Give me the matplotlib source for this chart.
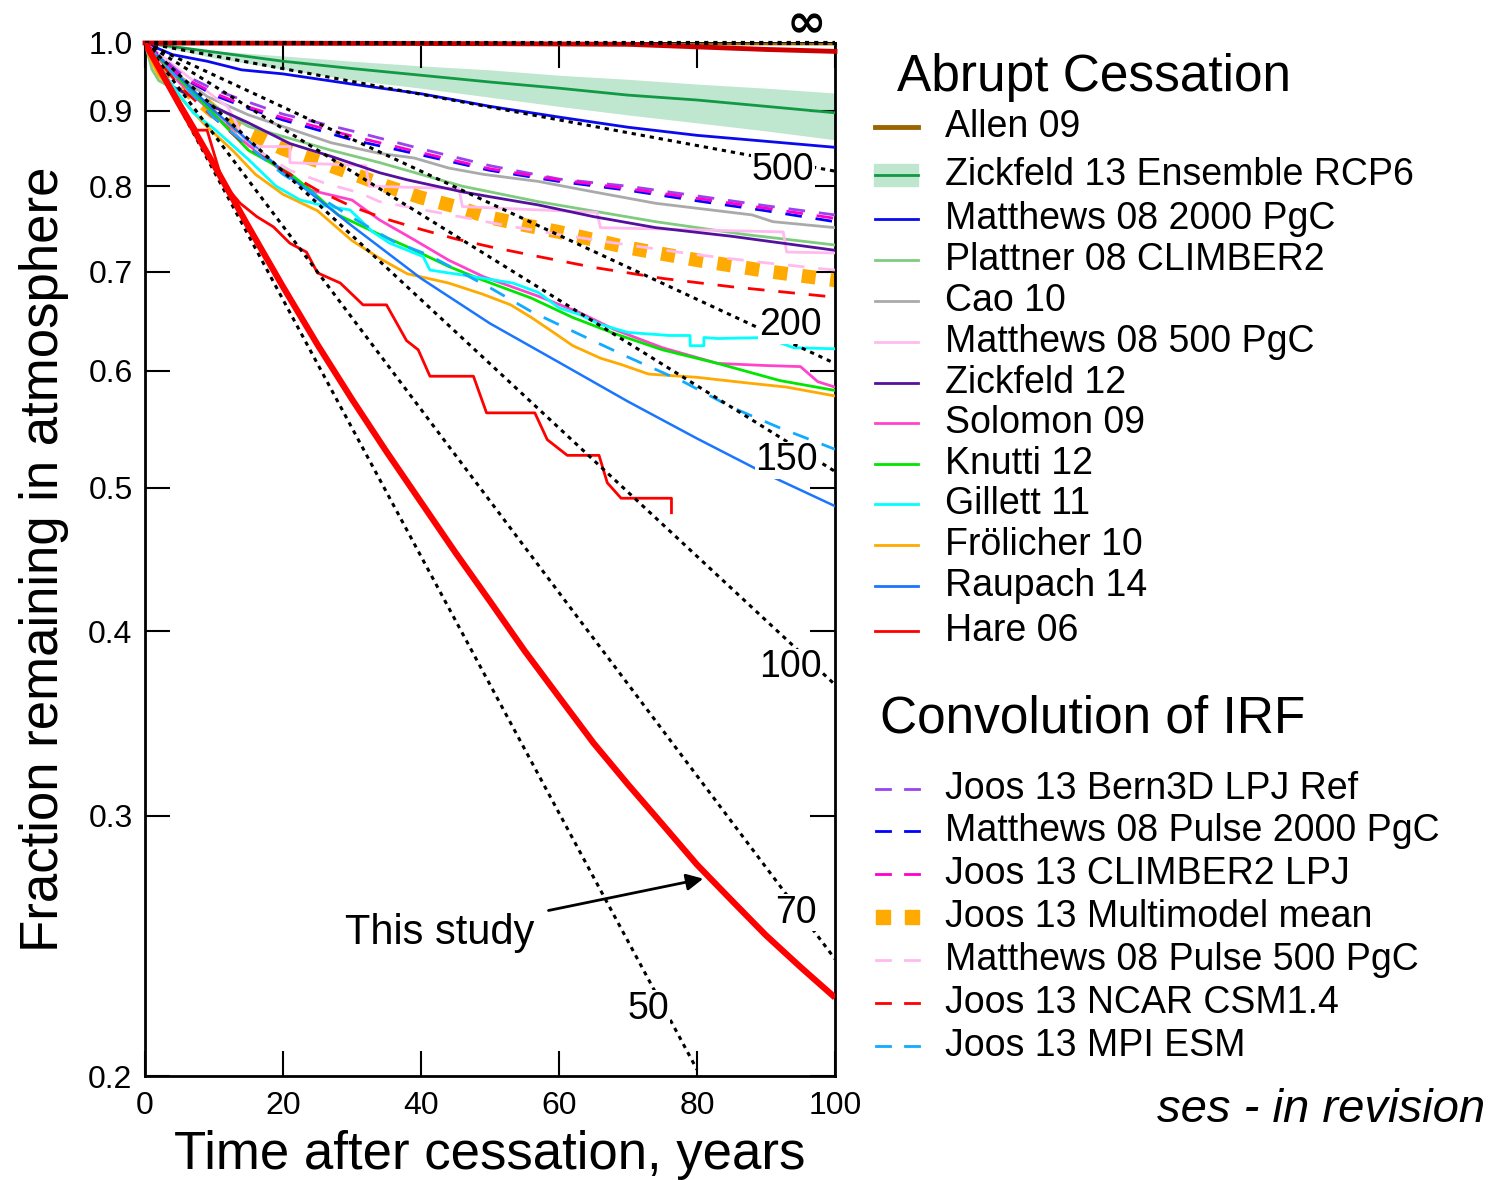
import matplotlib.pyplot as plt
from matplotlib.lines import Line2D
from matplotlib.patches import Rectangle
from matplotlib.ticker import NullLocator

plt.rcParams['font.family'] = ['Liberation Sans', 'DejaVu Sans']
plt.rcParams['mathtext.fontset'] = 'dejavusans'

# ---- e-folding reference lines (straight on a log axis): end points
tau_labels = ['500', '200', '150', '100', '70', '50']
tau_end_t = [100, 100, 100, 100, 100, 80]
tau_end_v = [0.819, 0.607, 0.513, 0.368, 0.240, 0.202]
tau_label_t = [92.5, 93.5, 93.0, 93.5, 94.3, 72.9]
tau_label_v = [0.820, 0.644, 0.522, 0.378, 0.258, 0.222]

# ---- abrupt cessation runs
allen_t = [0, 100]
allen_v = [1.0, 0.999]

top_red_t = [0, 50, 70, 80, 90, 100]
top_red_v = [1.0, 0.999, 0.998, 0.994, 0.990, 0.987]

zick13_t = [0, 10, 20, 30, 40, 50, 60, 70, 80, 90, 100]
zick13_v = [1.0, 0.986, 0.972, 0.961, 0.951, 0.941, 0.932, 0.922, 0.915, 0.906, 0.897]
zick13_hi = [1.0, 0.988, 0.980, 0.972, 0.965, 0.959, 0.951, 0.945, 0.938, 0.932, 0.925]
zick13_lo = [1.0, 0.977, 0.960, 0.944, 0.932, 0.919, 0.906, 0.894, 0.883, 0.872, 0.860]

m2000_t = [0, 4, 9, 14, 20, 30, 40, 50, 60, 70, 80, 90, 100]
m2000_v = [1.0, 0.982, 0.972, 0.959, 0.953, 0.938, 0.924, 0.906, 0.891, 0.877, 0.866, 0.858, 0.850]

plattner_t = [0, 1, 2, 4, 9, 15, 27, 34, 46, 57, 74, 87, 100]
plattner_v = [1.0, 0.96, 0.943, 0.932, 0.913, 0.878, 0.846, 0.830, 0.800, 0.781, 0.757, 0.742, 0.730]

cao_t = [0, 5, 9, 15, 27, 34, 39, 44, 49, 57, 65, 74, 85, 88, 91, 100]
cao_v = [1.0, 0.95, 0.92, 0.894, 0.856, 0.842, 0.836, 0.823, 0.815, 0.806, 0.793, 0.779, 0.768, 0.765, 0.757, 0.750]

m500_t = [0, 8, 12, 15, 21, 21, 32, 32.5, 45.5, 46, 65.5, 66, 92.5, 93, 100]
m500_v = [1.0, 0.935, 0.905, 0.851, 0.851, 0.83, 0.826, 0.80, 0.797, 0.775, 0.768, 0.75, 0.745, 0.722, 0.721]

zick12_t = [0, 4, 10, 15, 21, 27, 34, 38, 46, 50, 57, 65, 74, 85, 100]
zick12_v = [1.0, 0.934, 0.905, 0.883, 0.855, 0.838, 0.817, 0.808, 0.793, 0.787, 0.777, 0.763, 0.750, 0.740, 0.724]

solomon_t = [0, 5, 10, 14, 19, 24, 30, 34, 39, 44, 49, 57, 63, 68, 75, 83, 90, 95, 97.5, 100]
solomon_v = [1.0, 0.94, 0.895, 0.86, 0.825, 0.795, 0.783, 0.759, 0.736, 0.713, 0.695, 0.674,
             0.657, 0.640, 0.622, 0.607, 0.605, 0.604, 0.590, 0.585]

knutti_t = [0, 5, 9, 15, 21, 24, 28, 34, 38, 44, 49, 56, 62, 68, 75, 83, 92, 100]
knutti_v = [1.0, 0.945, 0.905, 0.846, 0.816, 0.795, 0.765, 0.742, 0.728, 0.706, 0.691, 0.672,
            0.652, 0.636, 0.620, 0.607, 0.591, 0.582]

gillett_t = [0, 3, 5, 7, 10, 15, 19, 22.5, 26, 29.7, 33, 35.5, 40.3, 41.3, 47.5, 53.3, 57, 60,
             63, 66, 70, 76, 79, 79, 81, 81, 83, 90, 94, 100]
gillett_v = [1.0, 0.95, 0.922, 0.897, 0.875, 0.834, 0.80, 0.783, 0.776, 0.771, 0.745, 0.732,
             0.717, 0.702, 0.695, 0.688, 0.678, 0.662, 0.655, 0.645, 0.637, 0.634, 0.634, 0.624,
             0.624, 0.632, 0.631, 0.632, 0.622, 0.621]

frol_t = [0, 1, 2, 5, 8.4, 12.8, 16, 20, 25, 30, 34, 38, 44, 49, 53, 56, 59, 62, 66, 69, 73,
          80, 87, 93, 100]
frol_v = [1.0, 0.97, 0.95, 0.92, 0.883, 0.845, 0.815, 0.79, 0.77, 0.735, 0.715, 0.698, 0.688,
          0.676, 0.665, 0.652, 0.638, 0.624, 0.612, 0.606, 0.597, 0.594, 0.589, 0.585, 0.577]

raupach_t = [0, 10, 20, 30, 40, 50, 60, 70, 80, 90, 100]
raupach_v = [1.0, 0.90, 0.819, 0.752, 0.693, 0.646, 0.608, 0.572, 0.540, 0.511, 0.486]

hare_t = [0, 4, 7.5, 9, 10, 11.3, 13.8, 16.2, 18.6, 21, 23.4, 25, 28.3, 31.6, 35, 37.9, 39.6,
          41.3, 47.6, 49.5, 56.5, 58.3, 61.2, 65.8, 67, 69, 76.3, 76.3]
hare_v = [1.0, 0.93, 0.873, 0.873, 0.842, 0.804, 0.779, 0.763, 0.751, 0.732, 0.722, 0.699,
          0.688, 0.665, 0.665, 0.629, 0.620, 0.595, 0.595, 0.562, 0.562, 0.539, 0.526, 0.526,
          0.504, 0.492, 0.492, 0.481]

# ---- convolution of impulse response functions
irf_t = [0, 5, 10, 15, 20, 30, 40, 50, 60, 70, 80, 90, 100]
bern3d_v = [1.0, 0.955, 0.93, 0.912, 0.895, 0.872, 0.848, 0.826, 0.809, 0.80, 0.788, 0.776, 0.765]
pulse2000_v = [1.0, 0.95, 0.922, 0.903, 0.887, 0.860, 0.840, 0.820, 0.806, 0.795, 0.782, 0.770, 0.757]
climber_v = [1.0, 0.95, 0.925, 0.905, 0.890, 0.865, 0.843, 0.822, 0.808, 0.797, 0.785, 0.773, 0.761]

mmm_t = [0, 5, 10, 15, 20, 25, 30, 35, 40, 45, 50, 55, 60, 70, 80, 90, 100]
mmm_v = [1.0, 0.94, 0.898, 0.87, 0.848, 0.832, 0.816, 0.80, 0.786, 0.775, 0.762, 0.753, 0.745,
         0.727, 0.713, 0.701, 0.691]

pulse500_t = [0, 5, 10, 15, 21, 26, 31, 34, 43, 52, 60, 70, 80, 90, 100]
pulse500_v = [1.0, 0.94, 0.89, 0.853, 0.82, 0.804, 0.792, 0.781, 0.767, 0.753, 0.742, 0.73,
              0.719, 0.71, 0.702]

ncar_t = [0, 5, 10, 15, 20, 25, 30, 35, 40, 45, 50, 57, 65, 75, 85, 100]
ncar_v = [1.0, 0.935, 0.89, 0.85, 0.82, 0.795, 0.775, 0.76, 0.748, 0.737, 0.728, 0.717, 0.705,
          0.693, 0.684, 0.673]

mpi_t = [0, 10, 20, 30, 36, 41, 50, 56, 63, 70, 78, 85, 92, 100]
mpi_v = [1.0, 0.89, 0.815, 0.762, 0.734, 0.719, 0.683, 0.658, 0.635, 0.613, 0.59, 0.567, 0.549, 0.531]

# ---- this study
study_t = [0, 5, 10, 15, 20, 25, 30, 35, 40, 45, 50, 55, 60, 65, 70, 75, 80, 85, 90, 95, 100]
study_v = [1.0, 0.908, 0.827, 0.751, 0.684, 0.625, 0.574, 0.529, 0.489, 0.452, 0.419, 0.388,
           0.361, 0.336, 0.315, 0.296, 0.278, 0.263, 0.249, 0.237, 0.226]

# colours
c_allen = '#996600'
c_zick13 = '#119944'
c_band = '#bfe6cf'
c_m2000 = '#0a0aee'
c_plattner = '#7fcc7f'
c_cao = '#aaaaaa'
c_m500 = '#ffbbee'
c_zick12 = '#55119e'
c_solomon = '#ff44cc'
c_knutti = '#00e600'
c_gillett = '#00ffff'
c_frol = '#ffaa00'
c_raupach = '#1a75ff'
c_hare = '#ff0000'
c_bern = '#9944ee'
c_p2000 = '#0000ff'
c_climber = '#ff00cc'
c_mmm = '#ffaa00'
c_p500 = '#ffbbee'
c_ncar = '#ff0000'
c_mpi = '#11aaff'

W, H = 1495, 1180
fig = plt.figure(figsize=(W / 100, H / 100), dpi=100)
ax = fig.add_axes([145 / W, 1 - 1076 / H, 690 / W, 1033 / H])
ax.set_yscale('log')
ax.set_xlim(0, 100)
ax.set_ylim(0.2, 1.0)

dash = (0, (6, 5))

# band + solid runs
ax.fill_between(zick13_t, zick13_lo, zick13_hi, color=c_band, lw=0, zorder=1)
solid = [
    (allen_t, allen_v, c_allen, 2.5),
    (zick13_t, zick13_v, c_zick13, 2),
    (m2000_t, m2000_v, c_m2000, 2),
    (plattner_t, plattner_v, c_plattner, 2),
    (cao_t, cao_v, c_cao, 2),
    (m500_t, m500_v, c_m500, 2),
    (zick12_t, zick12_v, c_zick12, 2),
    (frol_t, frol_v, c_frol, 2),
    (solomon_t, solomon_v, c_solomon, 2),
    (knutti_t, knutti_v, c_knutti, 2),
    (gillett_t, gillett_v, c_gillett, 2),
    (raupach_t, raupach_v, c_raupach, 1.8),
    (hare_t, hare_v, c_hare, 2),
]
for t, v, c, lw in solid:
    ax.plot(t, v, color=c, lw=lw, zorder=3)

# IRF dashed lines
ax.plot(mmm_t, mmm_v, color=c_mmm, lw=10, linestyle=(0, (1, 1.05)),
        dash_capstyle='butt', zorder=2)
for t, v, c in [(irf_t, bern3d_v, c_bern), (irf_t, pulse2000_v, c_p2000),
                (irf_t, climber_v, c_climber), (pulse500_t, pulse500_v, c_p500),
                (ncar_t, ncar_v, c_ncar), (mpi_t, mpi_v, c_mpi)]:
    ax.plot(t, v, color=c, lw=2, linestyle=dash, zorder=3)

# e-folding lines
for te, ve in zip(tau_end_t, tau_end_v):
    ax.plot([0, te], [1.0, ve], color='black', lw=2.2, linestyle=(0, (1.4, 1.6)), zorder=5)
for lab, lt, lv in zip(tau_labels, tau_label_t, tau_label_v):
    ax.text(lt, lv, lab, fontsize=27, ha='center', va='center', zorder=6,
            bbox=dict(fc='white', ec='none', pad=0.5))

# top: dark red run and infinite lifetime line
ax.plot(top_red_t, top_red_v, color='#cc0000', lw=3.5, zorder=6, clip_on=False)
ax.plot([0, 100], [1.0, 1.0], color='black', lw=3, linestyle=(0, (1, 1.2)),
        zorder=7, clip_on=False)
fig.text(805 / W, 1 - 23 / H, r'$\mathbf{\infty}$', fontsize=34, ha='center', va='center')

# this study
ax.plot(study_t, study_v, color='#ff0000', lw=4.5, zorder=8, solid_capstyle='butt')
ax.annotate('This study', xy=(80.9, 0.272), xytext=(56.5, 0.25),
            fontsize=30, ha='right', va='center',
            arrowprops=dict(arrowstyle='-|>', color='black', lw=2, mutation_scale=25,
                            shrinkA=8, shrinkB=0))

# axes styling
yt = [0.2, 0.3, 0.4, 0.5, 0.6, 0.7, 0.8, 0.9, 1.0]
ax.set_yticks(yt)
ax.set_yticklabels(['%.1f' % y for y in yt])
ax.yaxis.set_minor_locator(NullLocator())
ax.set_xticks([0, 20, 40, 60, 80, 100])
ax.tick_params(direction='in', length=18, width=1.5, top=True, right=True,
               labelsize=23, pad=9)
ax.tick_params(axis='x', pad=11)
for s in ax.spines.values():
    s.set_linewidth(2)
ax.set_xlabel('Time after cessation, years', fontsize=38, labelpad=6)
ax.set_ylabel('Fraction remaining in atmosphere', fontsize=38, labelpad=14)


# ---- legend drawn by hand in figure pixels
def fx(px):
    return px / W


def fy(py):
    return 1 - py / H


fig.text(fx(897), fy(78), 'Abrupt Cessation', fontsize=37, va='center')
abrupt = [
    ('Allen 09', c_allen, 127), ('Zickfeld 13 Ensemble RCP6', c_zick13, 175),
    ('Matthews 08 2000 PgC', c_m2000, 219), ('Plattner 08 CLIMBER2', c_plattner, 260),
    ('Cao 10', c_cao, 301), ('Matthews 08 500 PgC', c_m500, 342),
    ('Zickfeld 12', c_zick12, 383), ('Solomon 09', c_solomon, 423),
    ('Knutti 12', c_knutti, 464), ('Gillett 11', c_gillett, 504),
    ('Frölicher 10', c_frol, 545), ('Raupach 14', c_raupach, 586),
    ('Hare 06', c_hare, 631),
]
for lab, c, py in abrupt:
    if lab.startswith('Zickfeld 13'):
        fig.patches.append(Rectangle((fx(874), fy(186)), fx(44), 22 / H, color=c_band,
                                     transform=fig.transFigure, figure=fig))
    lw = 3.5 if lab == 'Allen 09' else 2
    fig.add_artist(Line2D([fx(875), fx(918)], [fy(py), fy(py)], color=c, lw=lw))
    fig.text(fx(945), fy(py), lab, fontsize=27, va='center')

fig.text(fx(880), fy(719), 'Convolution of IRF', fontsize=37, va='center')
conv = [
    ('Joos 13 Bern3D LPJ Ref', c_bern, 789), ('Matthews 08 Pulse 2000 PgC', c_p2000, 831),
    ('Joos 13 CLIMBER2 LPJ', c_climber, 874), ('Joos 13 Multimodel mean', c_mmm, 917),
    ('Matthews 08 Pulse 500 PgC', c_p500, 960), ('Joos 13 NCAR CSM1.4', c_ncar, 1003),
    ('Joos 13 MPI ESM', c_mpi, 1046),
]
for lab, c, py in conv:
    if 'Multimodel' in lab:
        for x0 in (876, 905):
            fig.patches.append(Rectangle((fx(x0), fy(py + 7)), fx(14), 14 / H, color=c,
                                         transform=fig.transFigure, figure=fig))
    else:
        for x0 in (876, 905):
            fig.add_artist(Line2D([fx(x0), fx(x0 + 14)], [fy(py), fy(py)], color=c, lw=2))
    fig.text(fx(945), fy(py), lab, fontsize=27, va='center')

fig.text(fx(1485), fy(1110), 'ses - in revision', fontsize=34, style='italic',
         ha='right', va='center')

fig.savefig('out.png', dpi=100)
